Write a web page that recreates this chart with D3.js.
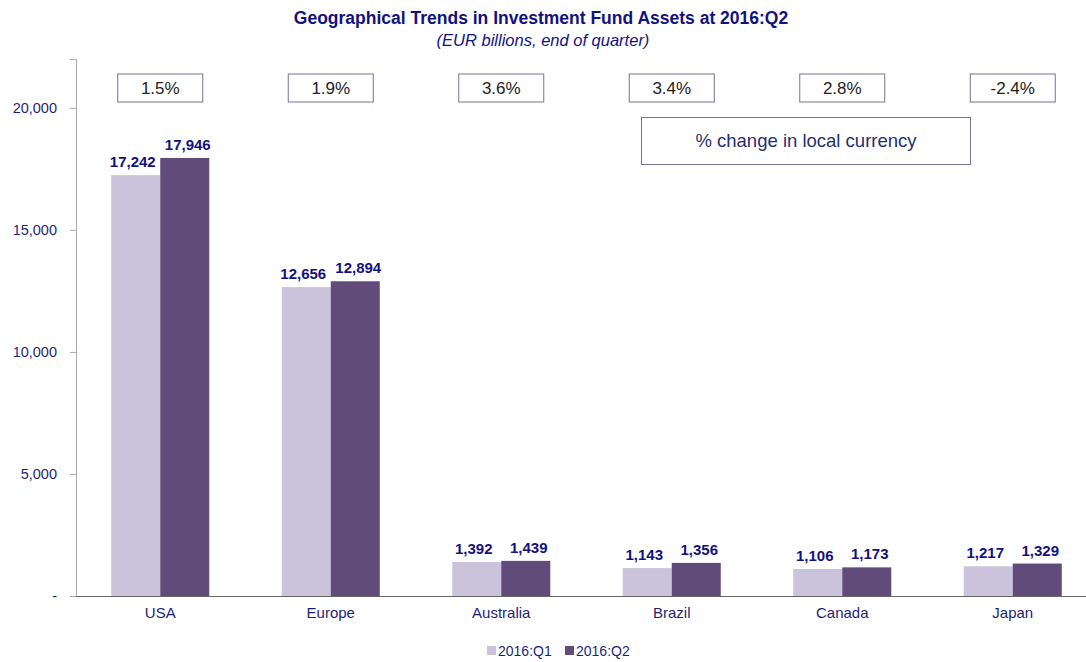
<!DOCTYPE html>
<html>
<head>
<meta charset="utf-8">
<script src="https://cdn.jsdelivr.net/npm/d3@7"></script>
<style>
  body { margin: 0; background: #fff; }
  svg { font-family: "Liberation Sans", Arial, sans-serif; }
</style>
</head>
<body>
<div class="chart"></div>
<script>
// data
var countries = ["USA", "Europe", "Australia", "Brazil", "Canada", "Japan"];
var q1 = [17242, 12656, 1392, 1143, 1106, 1217];
var q2 = [17946, 12894, 1439, 1356, 1173, 1329];
var pctChange = ["1.5%", "1.9%", "3.6%", "3.4%", "2.8%", "-2.4%"];
var seriesNames = ["2016:Q1", "2016:Q2"];
var yTicks = [0, 5000, 10000, 15000, 20000];

var width = 1086, height = 662;
var colors = ["#cbc2dc", "#614b7a"];
var navy = "#12127f";

var svg = d3.select(".chart").append("svg")
    .attr("width", width)
    .attr("height", height);

var x = d3.scaleBand()
    .domain(countries)
    .range([75, 1098])
    .paddingInner(0.425)
    .paddingOuter(0.2125);

var x1 = d3.scaleBand()
    .domain(seriesNames)
    .range([0, x.bandwidth()]);

var y = d3.scaleLinear()
    .domain([0, 22000])
    .range([596, 59]);

// title
svg.append("text")
    .attr("x", 541).attr("y", 24)
    .attr("text-anchor", "middle")
    .attr("font-size", 17.5).attr("font-weight", "bold")
    .attr("fill", navy)
    .text("Geographical Trends in Investment Fund Assets at 2016:Q2");
svg.append("text")
    .attr("x", 543).attr("y", 46)
    .attr("text-anchor", "middle")
    .attr("font-size", 16.5).attr("font-style", "italic")
    .attr("fill", navy)
    .text("(EUR billions, end of quarter)");

// y axis
var yAxis = svg.append("g")
    .attr("transform", "translate(76,0)")
    .call(d3.axisLeft(y)
        .tickValues(yTicks)
        .tickSize(6)
        .tickPadding(13)
        .tickFormat(d => d === 0 ? "-" : d3.format(",")(d)));
yAxis.select(".domain").attr("stroke", "#aaa");
yAxis.selectAll(".tick line").attr("stroke", "#aaa");
yAxis.selectAll(".tick text")
    .attr("font-size", 14.5)
    .attr("fill", "#1f1f7a")
    .attr("font-family", "Liberation Sans, Arial, sans-serif");

// bars
var rows = countries.map((c, i) => ({country: c, vals: [q1[i], q2[i]]}));

var groups = svg.selectAll("g.country")
    .data(rows)
    .join("g")
    .attr("class", "country")
    .attr("transform", d => "translate(" + x(d.country) + ",0)");

groups.selectAll("rect")
    .data(d => d.vals.map((v, j) => ({name: seriesNames[j], v: v, j: j})))
    .join("rect")
    .attr("x", d => x1(d.name))
    .attr("y", d => y(d.v))
    .attr("width", x1.bandwidth())
    .attr("height", d => y(0) - y(d.v))
    .attr("fill", d => colors[d.j]);

// labels pushed a little apart so neighbours don't touch
groups.selectAll("text.val")
    .data(d => d.vals.map((v, j) => ({name: seriesNames[j], v: v, j: j})))
    .join("text")
    .attr("class", "val")
    .attr("x", d => x1(d.name) + x1.bandwidth() / 2 + (d.j === 0 ? -3 : 3))
    .attr("y", d => y(d.v) - 8)
    .attr("text-anchor", "middle")
    .attr("font-size", 15).attr("font-weight", "bold")
    .attr("fill", navy)
    .text(d => d3.format(",")(d.v));

// x axis baseline and labels
var xAxis = svg.append("g")
    .attr("transform", "translate(0," + y(0) + ")")
    .call(d3.axisBottom(x).tickSize(0).tickPadding(11));
xAxis.select(".domain").attr("stroke", "#666").attr("d", "M76,0.5H1086");
xAxis.selectAll(".tick text")
    .attr("font-size", 15)
    .attr("fill", "#1f1f6f")
    .attr("font-family", "Liberation Sans, Arial, sans-serif");

// % change boxes
var boxW = 85, boxH = 28;
var pct = svg.selectAll("g.pct")
    .data(countries)
    .join("g")
    .attr("class", "pct")
    .attr("transform", d => "translate(" + (x(d) + x.bandwidth() / 2 - boxW / 2) + ",74)");
pct.append("rect")
    .attr("width", boxW).attr("height", boxH)
    .attr("fill", "#fff")
    .attr("stroke", "#7a7098").attr("stroke-width", 1);
pct.append("text")
    .attr("x", boxW / 2).attr("y", boxH / 2 + 6)
    .attr("text-anchor", "middle")
    .attr("font-size", 17)
    .attr("fill", "#222")
    .text((d, i) => pctChange[i]);

// note box
svg.append("rect")
    .attr("x", 641.5).attr("y", 117.5)
    .attr("width", 329).attr("height", 47)
    .attr("fill", "#fff")
    .attr("stroke", "#7a7098");
svg.append("text")
    .attr("x", 806).attr("y", 147)
    .attr("text-anchor", "middle")
    .attr("font-size", 18.5)
    .attr("fill", "#1f2f6f")
    .text("% change in local currency");

// legend
var legend = svg.selectAll("g.legend")
    .data(seriesNames)
    .join("g")
    .attr("class", "legend")
    .attr("transform", (d, i) => "translate(" + (487 + i * 78) + ",646)");
legend.append("rect")
    .attr("width", 9).attr("height", 9)
    .attr("fill", (d, i) => colors[i]);
legend.append("text")
    .attr("x", 11).attr("y", 10)
    .attr("font-size", 14)
    .attr("fill", "#1f1f7a")
    .text(d => d);
</script>
</body>
</html>
